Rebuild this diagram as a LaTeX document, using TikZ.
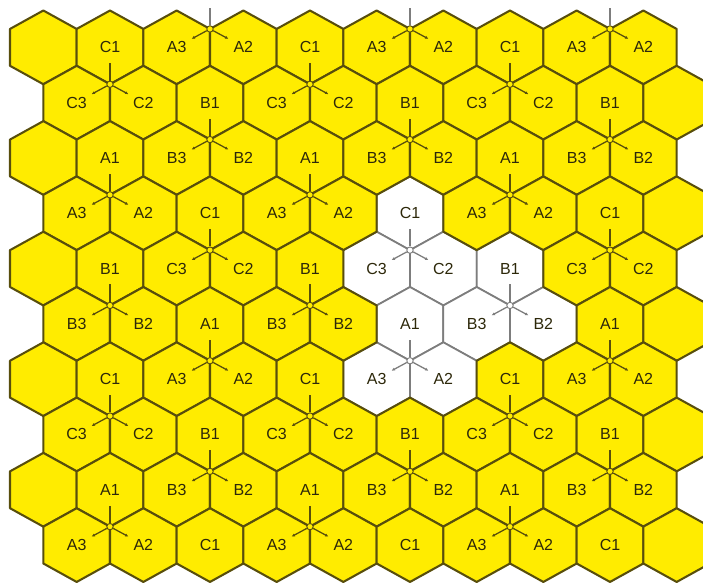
\documentclass[tikz,border=0pt]{standalone}
\usepackage{fontspec}
\setmainfont{Liberation Sans}
\usetikzlibrary{arrows.meta}
\definecolor{hexyellow}{RGB}{255,236,0}
\definecolor{hexedge}{RGB}{88,78,12}
\definecolor{hexgray}{RGB}{125,125,125}
\definecolor{lbltext}{RGB}{45,40,10}
\tikzset{
  yellowcell/.style={fill=hexyellow, draw=hexedge, line width=1.55pt, line join=round},
  whitecell/.style={fill=white, draw=hexgray, line width=1.3pt, line join=round},
  lbl/.style={font=\fontsize{12}{14}\selectfont, text=lbltext, inner sep=0pt},
  spoke/.style={line width=0.95pt},
  spokeend/.style={spoke, -{Latex[length=2.6pt,width=2.4pt]}},
  sitemark/.style={circle, line width=0.7pt, minimum size=4.8pt, inner sep=0pt},
}
\newcommand\hexat[3]{\path[#3] (#1,#2-36.87) -- (#1+33.333,#2-18.43) -- (#1+33.333,#2+18.43) -- (#1,#2+36.87) -- (#1-33.333,#2+18.43) -- (#1-33.333,#2-18.43) -- cycle;}
\begin{document}
\begin{tikzpicture}[x=0.75pt,y=-0.75pt]
\useasboundingbox (0,0) rectangle (703,582);
% white cluster
\foreach \j/\k in {3/5,4/5,4/6,4/7,5/5,5/6,5/7,6/5,6/6}{
  \pgfmathsetmacro\cx{43.333+66.667*\k+33.333*mod(\j,2)}
  \pgfmathsetmacro\cy{47.37+55.3*\j}
  \hexat{\cx}{\cy}{whitecell}
  \expandafter\gdef\csname wc\j-\k\endcsname{}
}
% yellow cells
\foreach \j in {0,...,9}{\foreach \k in {0,...,9}{
  \ifcsname wc\j-\k\endcsname\else
    \pgfmathsetmacro\cx{43.333+66.667*\k+33.333*mod(\j,2)}
    \pgfmathsetmacro\cy{47.37+55.3*\j}
    \hexat{\cx}{\cy}{yellowcell}
  \fi
}}
% sites with three sector antennas
\foreach \j/\ks in {-1/{2,5,8},0/{1,4,7},1/{2,5,8},2/{1,4,7},3/{2,5,8},4/{1,4,7},5/{2,5,8},6/{1,4,7},7/{2,5,8},8/{1,4,7}}{
  \foreach \k in \ks {
    \pgfmathsetmacro\cx{43.333+66.667*\k+33.333*mod(\j+2,2)}
    \pgfmathsetmacro\sy{47.37+55.3*\j+36.87}
    \def\sc{hexedge}\def\sf{hexyellow}
    \ifcsname wc\j-\k\endcsname\def\sc{hexgray}\def\sf{white}\fi
    \let\uc\sc
    \ifnum\j<0 \def\uc{hexgray}\fi
    \node[sitemark, draw=\sc, fill=\sf] (S\j-\k) at (\cx,\sy) {};
    \coordinate (S\j-\k-u) at (\cx,\sy-21);
    \coordinate (S\j-\k-l) at (\cx-18.5,\sy+10);
    \coordinate (S\j-\k-r) at (\cx+18.5,\sy+10);
    \draw[spoke, draw=\uc] (S\j-\k) -- (S\j-\k-u);
    \draw[spokeend, draw=\sc] (S\j-\k) -- (S\j-\k-l);
    \draw[spokeend, draw=\sc] (S\j-\k) -- (S\j-\k-r);
  }
}
% cell labels
\foreach \j/\lst in {
  0/{1/C1,2/A3,3/A2,4/C1,5/A3,6/A2,7/C1,8/A3,9/A2},
  1/{0/C3,1/C2,2/B1,3/C3,4/C2,5/B1,6/C3,7/C2,8/B1},
  2/{1/A1,2/B3,3/B2,4/A1,5/B3,6/B2,7/A1,8/B3,9/B2},
  3/{0/A3,1/A2,2/C1,3/A3,4/A2,5/C1,6/A3,7/A2,8/C1},
  4/{1/B1,2/C3,3/C2,4/B1,5/C3,6/C2,7/B1,8/C3,9/C2},
  5/{0/B3,1/B2,2/A1,3/B3,4/B2,5/A1,6/B3,7/B2,8/A1},
  6/{1/C1,2/A3,3/A2,4/C1,5/A3,6/A2,7/C1,8/A3,9/A2},
  7/{0/C3,1/C2,2/B1,3/C3,4/C2,5/B1,6/C3,7/C2,8/B1},
  8/{1/A1,2/B3,3/B2,4/A1,5/B3,6/B2,7/A1,8/B3,9/B2},
  9/{0/A3,1/A2,2/C1,3/A3,4/A2,5/C1,6/A3,7/A2,8/C1}}{
  \foreach \k/\lab in \lst {
    \pgfmathsetmacro\cx{43.333+66.667*\k+33.333*mod(\j,2)}
    \pgfmathsetmacro\cy{47.37+55.3*\j}
    \node[lbl] (L\j-\k) at (\cx,\cy) {\lab};
  }
}
\end{tikzpicture}
\end{document}
